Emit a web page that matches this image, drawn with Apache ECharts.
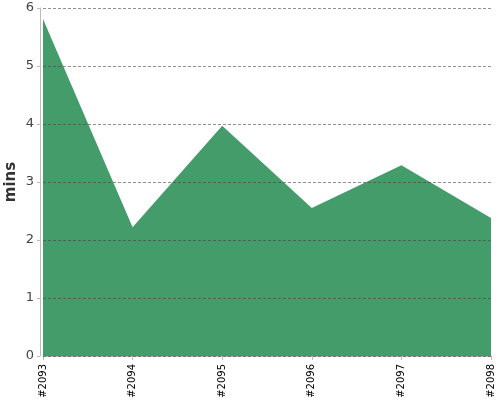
<!DOCTYPE html>
<html><head><meta charset="utf-8">
<script src="https://cdn.jsdelivr.net/npm/echarts@6/dist/echarts.min.js"></script>
<style>html,body{margin:0;padding:0;background:#fff}#c{width:500px;height:400px}</style>
</head><body><div id="c"></div>
<script>
var categories = ['#2093', '#2094', '#2095', '#2096', '#2097', '#2098'];
var mins = [5.81, 2.22, 3.97, 2.55, 3.29, 2.38];
var yTicks = [0, 1, 2, 3, 4, 5, 6];

var chart = echarts.init(document.getElementById('c'), null, {renderer: 'canvas'});
chart.setOption({
  animation: false,
  grid: {left: 43, right: 9, top: 8, bottom: 44, containLabel: false, outerBoundsMode: 'none'},
  xAxis: {
    type: 'category', data: categories, boundaryGap: false, offset: 4,
    axisLine: {lineStyle: {color: '#bbbbbb', width: 1}},
    axisTick: {alignWithLabel: true, length: 4, lineStyle: {color: '#bbbbbb'}},
    axisLabel: {rotate: 90, color: '#000', fontSize: 10, fontFamily: 'DejaVu Sans', margin: 4, interval: 0},
    splitLine: {show: false}
  },
  yAxis: {
    type: 'value', min: yTicks[0], max: yTicks[yTicks.length - 1], interval: 1, offset: 3, z: 5,
    name: 'mins', nameLocation: 'middle', nameGap: 21, nameRotate: 90, nameMoveOverlap: false,
    nameTextStyle: {fontSize: 15, fontWeight: 'bold', color: '#333', fontFamily: 'DejaVu Sans'},
    axisLine: {show: true, lineStyle: {color: '#bbbbbb', width: 1}},
    axisTick: {show: true, length: 3, lineStyle: {color: '#bbbbbb'}},
    axisLabel: {color: '#444', fontSize: 13, fontFamily: 'DejaVu Sans', margin: 6},
    splitLine: {show: true, lineStyle: {color: 'rgba(70,70,70,0.6)', type: [3, 2], width: 1}}
  },
  series: [{
    type: 'line', data: mins, symbol: 'none', z: 2,
    lineStyle: {width: 0},
    areaStyle: {color: '#459c6b', opacity: 1}
  }]
});
</script></body></html>
